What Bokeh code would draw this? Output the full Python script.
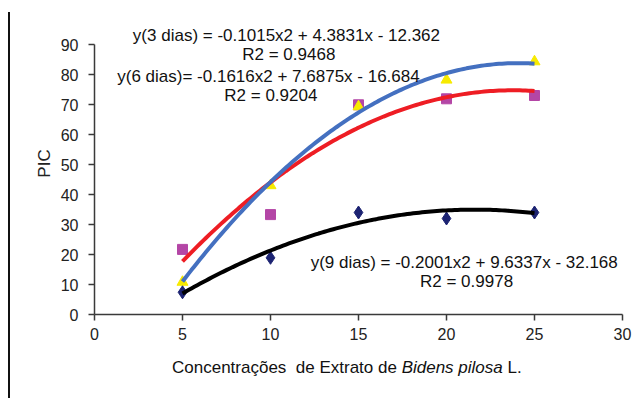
import numpy as np
from bokeh.plotting import figure
from bokeh.models import Label, Range1d, FixedTicker, Div
from bokeh.layouts import column
from bokeh.embed import file_html
from bokeh.resources import INLINE

# ---- data ----
conc = [5, 10, 15, 20, 25]                    # extract concentration
tri_vals = [10.8, 43.0, 69.3, 78.2, 84.3]     # yellow triangles
sq_vals = [21.7, 33.3, 69.9, 71.9, 73.0]      # magenta squares
dia_vals = [7.4, 18.9, 34.0, 32.0, 34.0]      # navy diamonds

# trend-line coefficients as printed in the chart (a, b, c of a*x^2 + b*x + c)
fit_3 = [-0.1015, 4.3831, -12.362]
fit_6 = [-0.1616, 7.6875, -16.684]
fit_9 = [-0.2001, 9.6337, -32.168]

x_ticks = [0, 5, 10, 15, 20, 25, 30]
y_ticks = [0, 10, 20, 30, 40, 50, 60, 70, 80, 90]

eq_3 = "y(3 dias) = -0.1015x2  + 4.3831x - 12.362"
r2_3 = "R2 = 0.9468"
eq_6 = "y(6 dias)= -0.1616x2  + 7.6875x - 16.684"
r2_6 = "R2 = 0.9204"
eq_9 = "y(9 dias) = -0.2001x2  + 9.6337x - 32.168"
r2_9 = "R2 = 0.9978"

x_title_html = "Concentrações&nbsp; de Extrato de <i>Bidens pilosa</i> L."

FONT = "Liberation Sans"

p = figure(width=630, height=336, output_backend="svg", toolbar_location=None,
           x_range=Range1d(0, 30), y_range=Range1d(0, 100.67),
           min_border_left=84, min_border_right=18, min_border_top=0, min_border_bottom=34)
p.outline_line_color = None
p.xgrid.visible = False
p.ygrid.visible = False
p.background_fill_color = "white"
p.border_fill_color = "white"

for ax, ticks in ((p.xaxis[0], x_ticks), (p.yaxis[0], y_ticks)):
    ax.ticker = FixedTicker(ticks=ticks)
    ax.minor_tick_line_color = None
    ax.major_tick_in = 0
    ax.major_tick_out = 6
    ax.axis_line_color = "#3a3a3a"
    ax.axis_line_width = 1.5
    ax.major_tick_line_color = "#3a3a3a"
    ax.major_tick_line_width = 1.5
    ax.major_label_text_font = FONT
    ax.major_label_text_font_size = "16px"
    ax.major_label_text_color = "#222222"

p.yaxis.bounds = (0, 90)
p.xaxis.bounds = (0, 30)
p.xaxis.major_label_standoff = 7
p.yaxis.major_label_standoff = 10
p.yaxis.axis_label = "PIC"
p.yaxis.axis_label_text_font = FONT
p.yaxis.axis_label_text_font_size = "17px"
p.yaxis.axis_label_text_font_style = "normal"
p.yaxis.axis_label_text_color = "#222222"
p.yaxis.axis_label_standoff = 4

# markers
p.scatter(conc, sq_vals, marker="square", size=10, fill_color="#b446a6", line_color="#b446a6")
p.scatter(conc, tri_vals, marker="triangle", size=11, fill_color="#f7ea00", line_color="#f7ea00")
p.scatter(conc, dia_vals, marker="diamond", size=13, fill_color="#1c2372", line_color="#1c2372")

# trend lines from printed equations
xs = np.linspace(conc[0], conc[-1], 120)
def quad(c):
    return c[0] * xs ** 2 + c[1] * xs + c[2]

p.line(xs, quad(fit_3), line_color="black", line_width=4)
p.line(xs, quad(fit_6), line_color="#ee1d24", line_width=4)
p.line(xs, quad(fit_9), line_color="#4470c0", line_width=4)

def lab(x, y, text):
    p.add_layout(Label(x=x, y=y, text=text, text_align="center", text_baseline="alphabetic",
                       text_font=FONT, text_font_size="17px", text_color="#111111"))

lab(11.04, 93.0, eq_3)
lab(11.04, 86.6, r2_3)
lab(10.02, 79.3, eq_6)
lab(10.02, 73.0, r2_6)
lab(21.14, 17.5, eq_9)
lab(21.14, 11.0, r2_9)

# x-axis title with italic species name
title_div = Div(text=x_title_html, width=600, height=40,
                styles={"font-family": FONT, "font-size": "17px", "line-height": "20px",
                        "color": "#111111", "padding-left": "157px", "padding-top": "5px",
                        "white-space": "nowrap"})

layout = column(p, title_div, spacing=0)
layout.margin = (12, 0, 0, 8)
layout.styles = {"border-left": "2px solid #111111"}

open("out.html", "w").write(file_html(layout, INLINE))
